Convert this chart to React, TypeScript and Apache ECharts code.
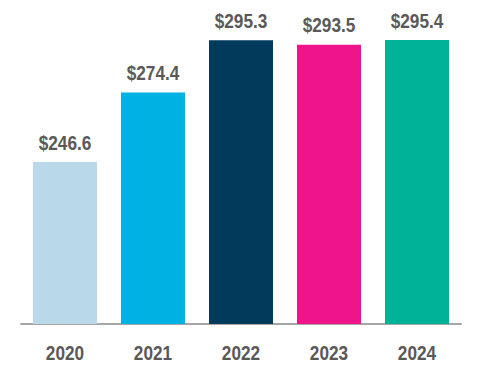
import React, { useEffect, useRef } from "react";
import * as echarts from "echarts";

const years = ["2020", "2021", "2022", "2023", "2024"];
const revenue = [246.6, 274.4, 295.3, 293.5, 295.4];
const barColors = ["#B9D9EB", "#00B2E3", "#003B5C", "#F0148A", "#00B398"];

const FONT = "'Liberation Sans', Arial, sans-serif";
const Y_MIN = 181.8;
const Y_MAX = 181.8 + 324 / 2.5;

export default function App() {
  const ref = useRef<HTMLDivElement>(null);
  useEffect(() => {
    if (!ref.current) return;
    const chart = echarts.init(ref.current, undefined, { renderer: "svg" });
    chart.setOption({
      animation: false,
      grid: { left: 21, right: 19, top: 0, bottom: 60, containLabel: false },
      xAxis: {
        type: "category",
        data: years,
        axisLine: { show: true, lineStyle: { color: "#A6A6A6", width: 2 } },
        axisTick: { show: false },
        axisLabel: { show: false },
      },
      yAxis: {
        type: "value",
        min: Y_MIN,
        max: Y_MAX,
        show: false,
        splitLine: { show: false },
      },
      series: [
        {
          type: "bar",
          barWidth: 64,
          data: revenue.map((v, i) => ({ value: v, itemStyle: { color: barColors[i] } })),
        },
        {
          type: "custom",
          silent: true,
          clip: false,
          z: 5,
          data: revenue.map((v, i) => [i, v]),
          renderItem: (params: any, api: any) => {
            const i = api.value(0);
            const v = api.value(1);
            const top = api.coord([i, v]);
            const base = api.coord([i, Y_MIN]);
            return {
              type: "group",
              children: [
                {
                  type: "text",
                  x: top[0],
                  y: top[1] - 9,
                  scaleX: 0.82,
                  style: {
                    text: "$" + Number(v).toFixed(1),
                    fill: "#595959",
                    font: "bold 21px " + FONT,
                    align: "center",
                    verticalAlign: "bottom",
                  },
                },
                {
                  type: "text",
                  x: base[0],
                  y: base[1] + 18,
                  scaleX: 0.82,
                  style: {
                    text: years[i],
                    fill: "#595959",
                    font: "bold 21px " + FONT,
                    align: "center",
                    verticalAlign: "top",
                  },
                },
              ],
            };
          },
        },
      ],
    });
    return () => chart.dispose();
  }, []);
  return (
    <div
      ref={ref}
      style={{ position: "fixed", left: 0, top: 0, width: 480, height: 384, background: "#fff" }}
    />
  );
}
